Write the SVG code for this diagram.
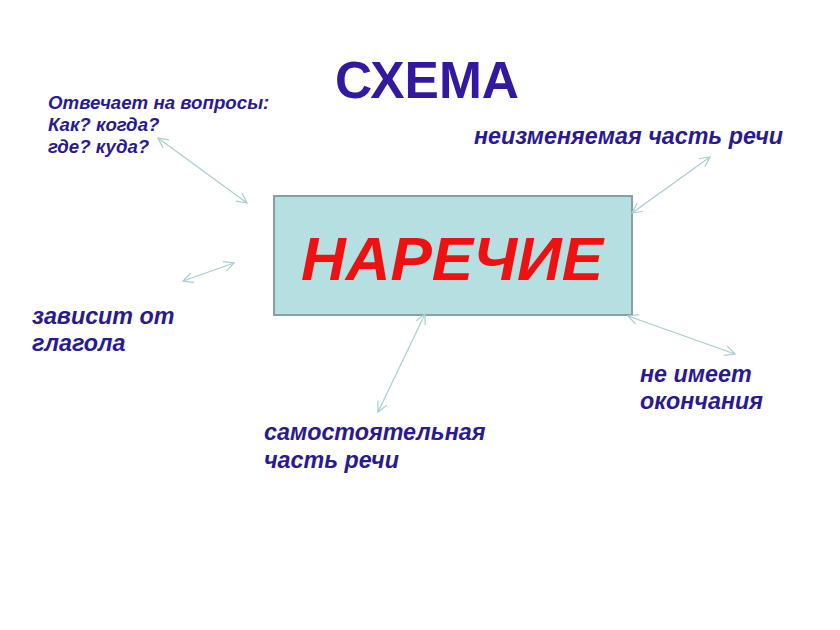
<svg xmlns="http://www.w3.org/2000/svg" width="840" height="630" viewBox="0 0 840 630">
<style>
.t{font-family:"Liberation Sans",Arial,sans-serif;font-weight:bold;font-style:italic;fill:#2b1a8f}
.l{font-size:23.3px}
.q{font-size:18.7px}
.c{stroke:#a9cdd0;stroke-width:1.2;fill:none}
</style>
<defs>
<marker id="a" viewBox="0 0 12 12" refX="11" refY="6" markerWidth="12" markerHeight="12" orient="auto-start-reverse" markerUnits="userSpaceOnUse">
<path d="M1,1 L11,6 L1,11" fill="none" stroke="#a9cdd0" stroke-width="1.2"/>
</marker>
</defs>
<rect width="840" height="630" fill="#ffffff"/>
<g id="title"><text x="427" y="98" text-anchor="middle" style="font-family:'Liberation Sans',Arial,sans-serif;font-weight:bold;font-size:51.5px;fill:#3318a0">СХЕМА</text></g>
<g id="center">
<rect x="274" y="196" width="358" height="119" fill="#b5dfe0" stroke="#8a9fa2" stroke-width="2"/>
<text x="452" y="280" text-anchor="middle" style="font-family:'Liberation Sans',Arial,sans-serif;font-weight:bold;font-style:italic;font-size:62px;fill:#ee1111">НАРЕЧИЕ</text>
</g>
<g id="connectors">
<line class="c" x1="158" y1="138" x2="247" y2="203" marker-start="url(#a)" marker-end="url(#a)"/>
<line class="c" x1="632" y1="213" x2="710" y2="157" marker-start="url(#a)" marker-end="url(#a)"/>
<line class="c" x1="183" y1="281" x2="234" y2="263" marker-start="url(#a)" marker-end="url(#a)"/>
<line class="c" x1="628" y1="316" x2="735" y2="354" marker-start="url(#a)" marker-end="url(#a)"/>
<line class="c" x1="425" y1="314" x2="378" y2="412" marker-start="url(#a)" marker-end="url(#a)"/>
</g>
<g id="questions">
<text x="48" y="109" class="t q">Отвечает на вопросы:</text>
<text x="48" y="131" class="t q">Как? когда?</text>
<text x="48" y="153" class="t q">где? куда?</text>
</g>
<g id="invariable"><text x="474" y="144" class="t l">неизменяемая часть речи</text></g>
<g id="depends">
<text x="32" y="324" class="t l">зависит от</text>
<text x="32" y="351" class="t l">глагола</text>
</g>
<g id="noending">
<text x="640" y="382" class="t l">не имеет</text>
<text x="640" y="409" class="t l">окончания</text>
</g>
<g id="independent">
<text x="264" y="440" class="t l">самостоятельная</text>
<text x="264" y="468" class="t l">часть речи</text>
</g>
</svg>
